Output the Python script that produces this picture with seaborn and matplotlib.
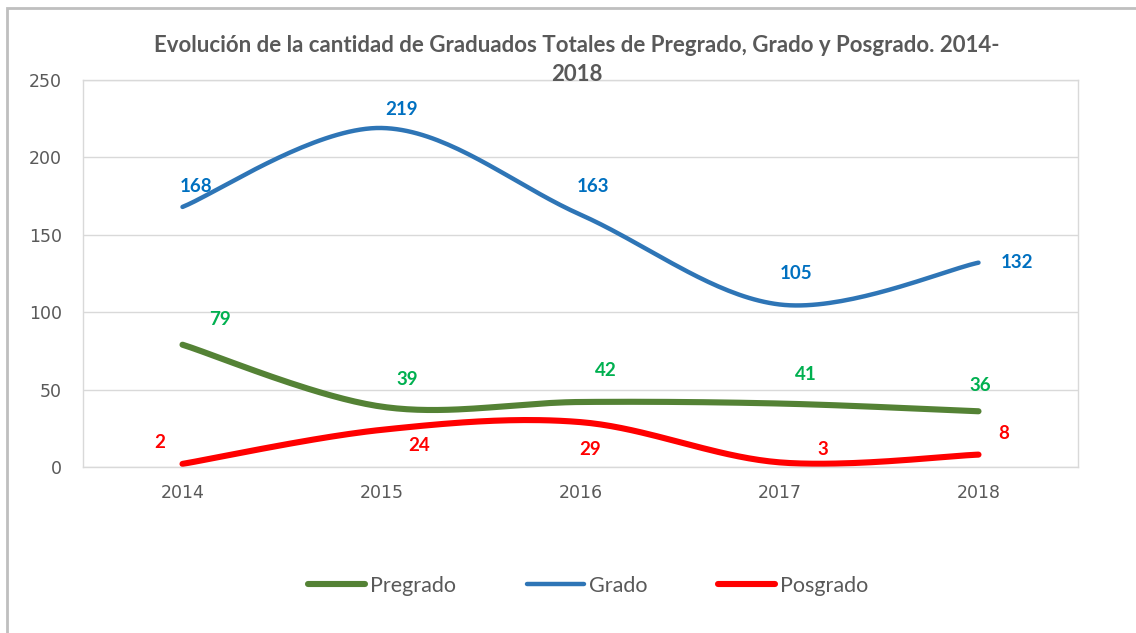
import numpy as np
import pandas as pd
import matplotlib
matplotlib.use("Agg")
import matplotlib.pyplot as plt
import seaborn as sns
from matplotlib.patches import Rectangle
from matplotlib.lines import Line2D

years = ["2014", "2015", "2016", "2017", "2018"]
series_names = ["Pregrado", "Grado", "Posgrado"]
pregrado = [79, 39, 42, 41, 36]
grado = [168, 219, 163, 105, 132]
posgrado = [2, 24, 29, 3, 8]
y_ticks = [0, 50, 100, 150, 200, 250]
title = "Evolución de la cantidad de Graduados Totales de Pregrado, Grado y Posgrado. 2014-\n2018"

line_colors = {"Pregrado": "#548235", "Grado": "#2E75B6", "Posgrado": "#FF0000"}
label_colors = {"Pregrado": "#00B050", "Grado": "#0070C0", "Posgrado": "#FF0000"}
line_widths = {"Pregrado": 4.4, "Grado": 3.2, "Posgrado": 4.4}
# label offsets in pixels (style only)
label_offsets = {
    "Pregrado": [(37, 25), (26, 27), (25, 31), (26, 29), (2, 26)],
    "Grado": [(14, 20), (20, 18), (12, 28), (17, 31), (38, 0)],
    "Posgrado": [(-23, 21), (38, -16), (10, -27), (43, 13), (25, 21)],
}

sns.set_theme(style="white")
plt.rcParams["font.family"] = ["Lato", "DejaVu Sans"]

values = {"Pregrado": pregrado, "Grado": grado, "Posgrado": posgrado}


def smooth(xs, ys, n=40):
    # Excel-style smoothed line: cubic Bezier with Catmull-Rom control points
    xs = np.asarray(xs, float)
    ys = np.asarray(ys, float)
    px = np.concatenate([[xs[0]], xs, [xs[-1]]])
    py = np.concatenate([[ys[0]], ys, [ys[-1]]])
    out_x, out_y = [], []
    t = np.linspace(0, 1, n)
    for i in range(1, len(xs)):
        p0 = np.array([px[i], py[i]])
        p3 = np.array([px[i + 1], py[i + 1]])
        c1 = p0 + (np.array([px[i + 1], py[i + 1]]) - np.array([px[i - 1], py[i - 1]])) / 6
        c2 = p3 - (np.array([px[i + 2], py[i + 2]]) - np.array([px[i], py[i]])) / 6
        b = ((1 - t) ** 3)[:, None] * p0 + (3 * (1 - t) ** 2 * t)[:, None] * c1 \
            + (3 * (1 - t) * t ** 2)[:, None] * c2 + (t ** 3)[:, None] * p3
        if i > 1:
            b = b[1:]
        out_x.extend(b[:, 0])
        out_y.extend(b[:, 1])
    return np.array(out_x), np.array(out_y)


fig = plt.figure(figsize=(11.36, 6.33), dpi=100)
ax = fig.add_axes([83 / 1136, 1 - 467 / 633, (1078 - 83) / 1136, (467 - 80) / 633])

xpos = np.arange(len(years))
frames = []
for name in series_names:
    sx, sy = smooth(xpos, values[name])
    frames.append(pd.DataFrame({"x": sx, "y": sy, "serie": name}))
df = pd.concat(frames, ignore_index=True)

for name in series_names:
    sub = df[df["serie"] == name]
    sns.lineplot(data=sub, x="x", y="y", sort=False, ax=ax, color=line_colors[name],
                 linewidth=line_widths[name], solid_capstyle="round", legend=False)

for name in series_names:
    for i, v in enumerate(values[name]):
        dx, dy = label_offsets[name][i]
        ax.annotate(str(v), (xpos[i], v), xytext=(dx, dy), textcoords="offset pixels",
                    ha="center", va="center", fontsize=13.5, fontweight="bold",
                    color=label_colors[name])

ax.set_xlim(-0.5, len(years) - 0.5)
ax.set_ylim(0, 250)
ax.set_xticks(xpos)
ax.set_xticklabels(years)
ax.set_yticks(y_ticks)
ax.set_xlabel("")
ax.set_ylabel("")
ax.grid(axis="y", color="#D9D9D9", linewidth=1)
ax.set_axisbelow(True)
for s in ax.spines.values():
    s.set_color("#D9D9D9")
    s.set_linewidth(1)
ax.tick_params(axis="both", length=0, labelsize=12.5, colors="#595959",
               labelfontfamily="DejaVu Sans")
ax.tick_params(axis="x", pad=12)
ax.tick_params(axis="y", pad=15)

fig.text(577 / 1136, 1 - 60 / 633, title, ha="center", va="center", fontsize=16,
         fontweight="bold", color="#595959", linespacing=1.45)

handles = [Line2D([0], [0], color=line_colors[n], linewidth=line_widths[n], solid_capstyle="round")
           for n in series_names]
fig.legend(handles, series_names, loc="center", bbox_to_anchor=(588 / 1136, 1 - 586 / 633),
           ncol=3, frameon=False, fontsize=15.5, labelcolor="#595959", handlelength=2.65,
           handletextpad=0.23, columnspacing=3.3)

fig.add_artist(Rectangle((7 / 1136, -0.1), 1.2, 1 - 8 / 633 + 0.1, transform=fig.transFigure,
                         fill=False, edgecolor="#BFBFBF", linewidth=2))

fig.savefig("out.png", dpi=100)
